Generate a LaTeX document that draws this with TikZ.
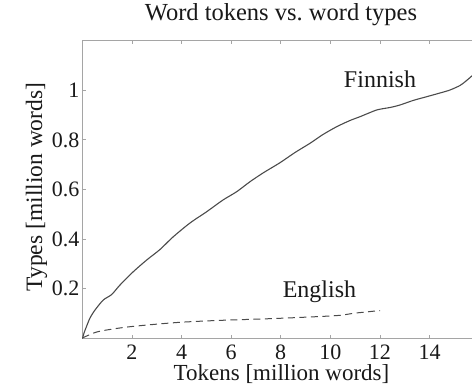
\documentclass[tikz,border=0pt]{standalone}
\usepackage{fontspec}
\setmainfont{Liberation Serif}
\definecolor{axisgray}{RGB}{165,165,165}
\definecolor{curvegray}{RGB}{75,75,75}
\definecolor{txt}{RGB}{25,25,25}
\begin{document}
\begin{tikzpicture}[x=1pt,y=-1pt,
  axisline/.style={draw=axisgray,line width=0.9pt},
  tickmark/.style={draw=axisgray,line width=0.8pt},
  curve/.style={draw=curvegray,line width=1.1pt,line join=round,line cap=round},
  ticklabel/.style={text=txt,font=\fontsize{22}{24}\selectfont,inner sep=0pt},
  axlabel/.style={text=txt,font=\fontsize{23.5}{26}\selectfont,inner sep=0pt},
  serieslabel/.style={text=txt,font=\fontsize{24}{26}\selectfont,inner sep=0pt}]
\useasboundingbox (0,0) rectangle (472,390);
\fill[white] (0,0) rectangle (472,390);
% axes box (right side beyond the picture)
\begin{scope}
\clip (0,0) rectangle (472,390);
\draw[axisline] (490,40.8) -- (82.5,40.8) -- (82.5,338.5) -- (490,338.5);
\foreach \t in {2,4,...,14}{
  \draw[tickmark] ({82.3+24.8*\t},338.5) -- ++(0,-3.5);
  \draw[tickmark] ({82.3+24.8*\t},40.8) -- ++(0,3.5);
  \node[ticklabel,anchor=base,text depth=0pt] (xt\t) at ({82.3+24.8*\t},359.6) {\t};
}
\foreach \v/\lab in {0.2/0.2,0.4/0.4,0.6/0.6,0.8/0.8,1/1}{
  \draw[tickmark] (82.5,{338.5-248.3*\v}) -- ++(3.5,0);
  \node[ticklabel,anchor=east] (yt\lab) at (79.5,{338.5-248.3*\v}) {\lab};
}
% Finnish
\draw[curve] plot[smooth,tension=0.45] coordinates {
 (82.6,338.3) (84,333) (86.7,326) (90,318) (95,310) (103.3,300) (111.7,294.5)
 (120,285) (133.3,271.7) (146.7,260) (160,249.5) (173,237) (190,223)
 (206.7,211.7) (223,200) (236.7,191.7) (250,181.7) (263,173) (280,162.7)
 (295,152.5) (310,143.3) (323,134.5) (336.7,126.7) (350,120.5) (360,116.7)
 (376.7,110) (390,107.5) (400,105) (413,100.5) (426.7,96.7) (440,93) (450,90)
 (460,85.5) (466,81) (473,75)};
% English
\draw[curve,line width=1.0pt,dash pattern=on 7pt off 4.5pt,line cap=butt] plot[smooth,tension=0.5] coordinates {
 (82.7,337.8) (96.7,332) (113,329) (130,326.7) (155,324.3) (180,322.3) (205,321)
 (230,320) (255,319.2) (280,318.3) (305,317.2) (330,316) (343,315) (353.3,313.3) (366,312) (380,310.5)};
\end{scope}
\node[axlabel,anchor=base] (title) at (281,20.7) {\fontsize{24.5}{26}\selectfont Word tokens vs.\ word types};
\node[axlabel,anchor=base,text height=15pt] (xlabel) at (281.5,380.5) {\fontsize{23}{25}\selectfont Tokens [million words]};
\node[axlabel,anchor=base,rotate=90] (ylabel) at (42,187) {Types [million words]};
\node[serieslabel,anchor=base] (fin) at (380,87.3) {Finnish};
\node[serieslabel,anchor=base] (eng) at (319.5,297.7) {English};
\end{tikzpicture}
\end{document}
